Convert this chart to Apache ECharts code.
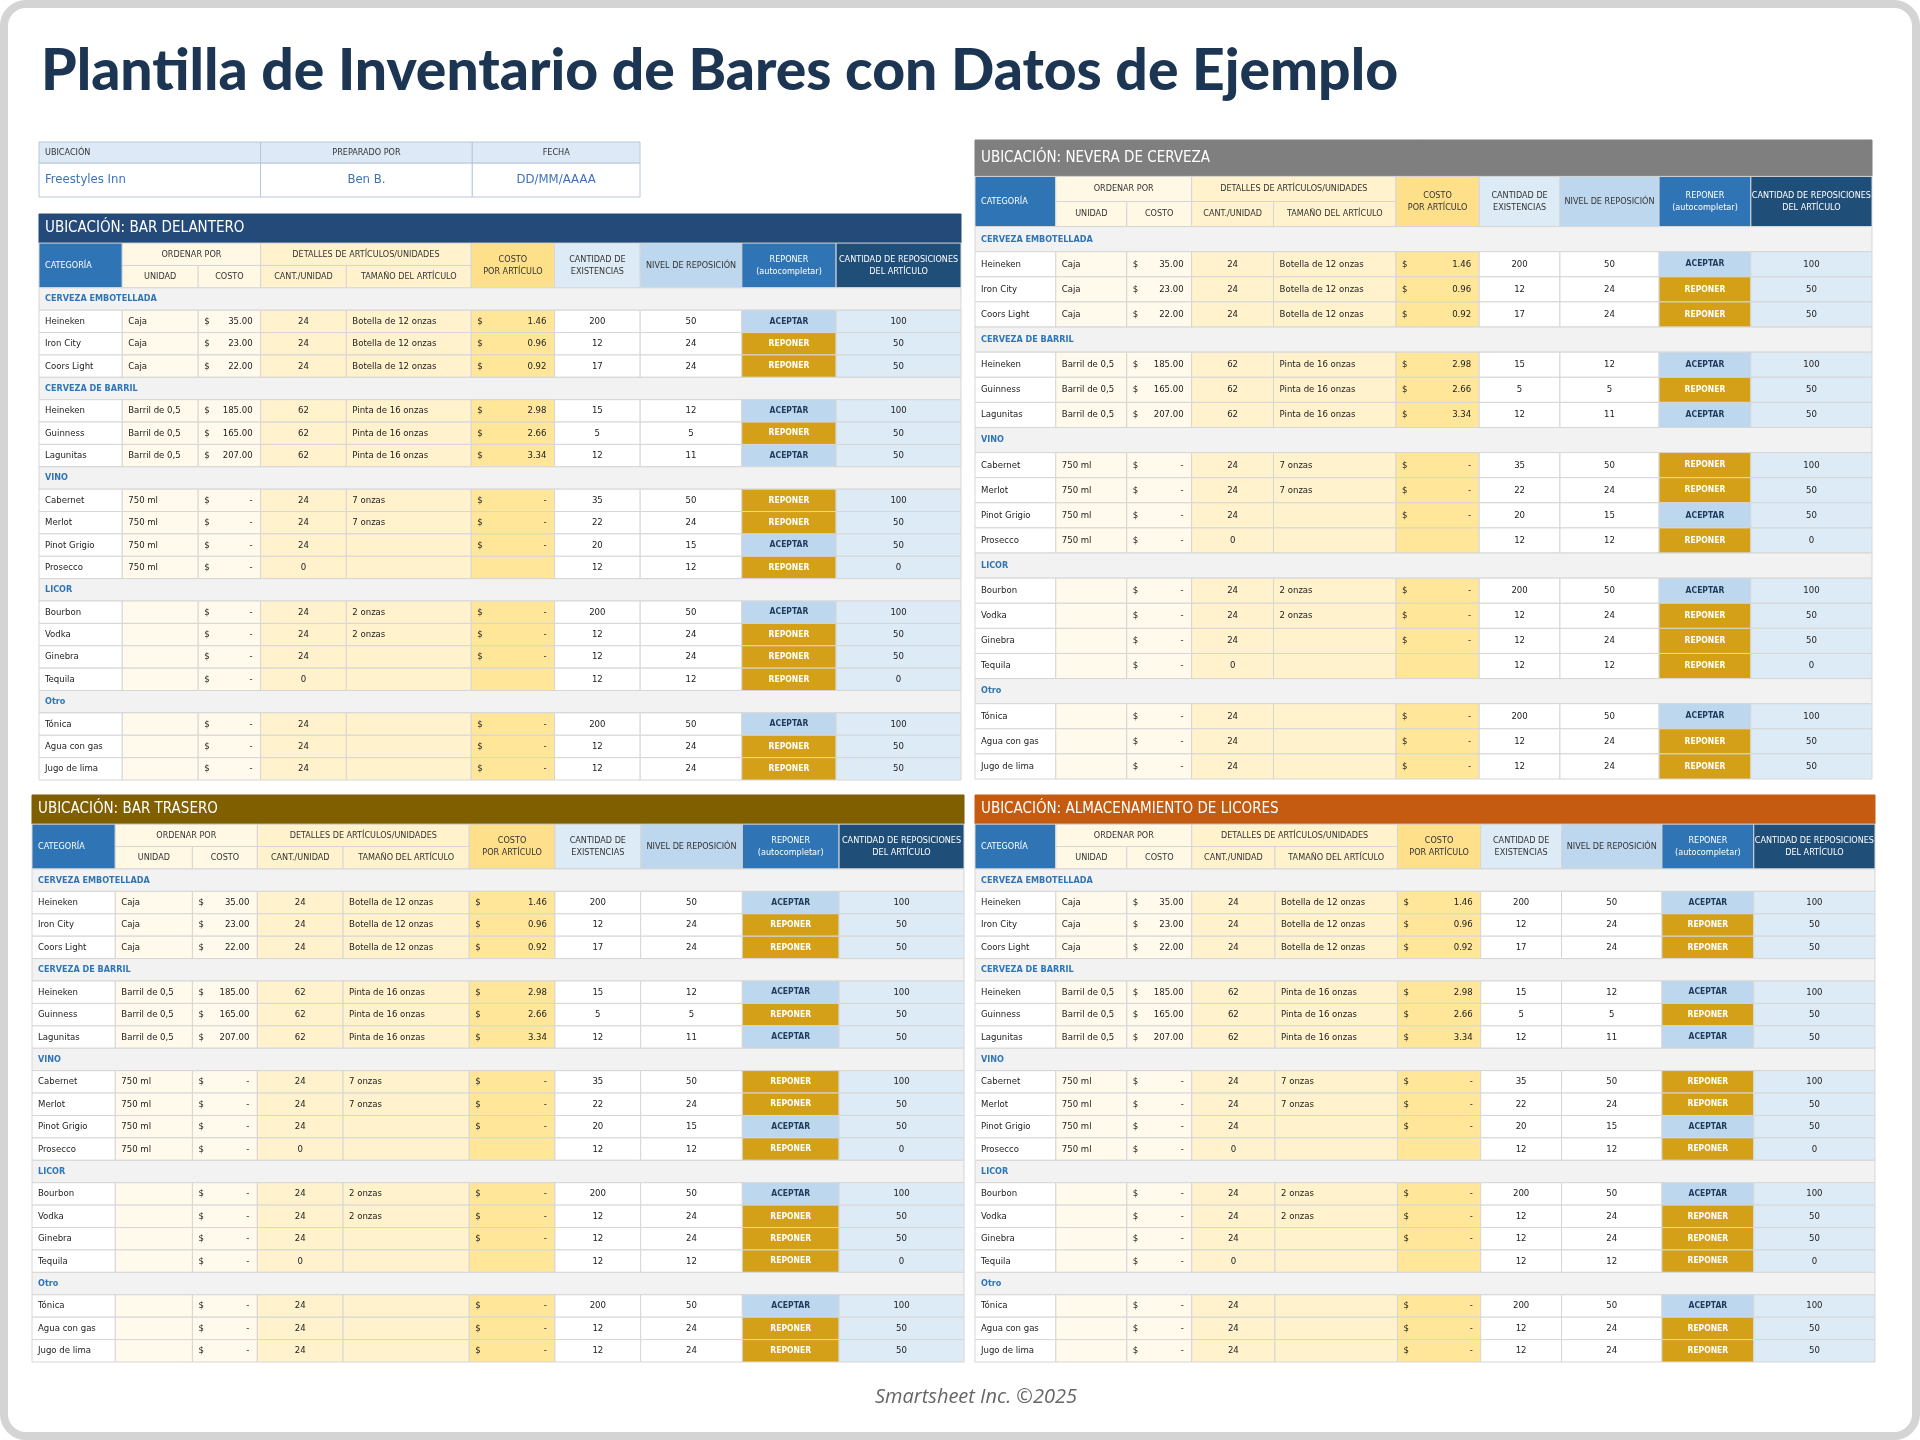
<!DOCTYPE html>
<html><head><meta charset="utf-8">
<script src="https://cdn.jsdelivr.net/npm/echarts@6/dist/echarts.min.js"></script>
<style>html,body{margin:0;padding:0;background:#fff}#c{width:1920px;height:1440px}</style>
</head><body><div id="c"></div>
<script>
// ---------- DATA ----------
const pageTitle = 'Plantilla de Inventario de Bares con Datos de Ejemplo';
const footer = 'Smartsheet Inc. ©2025';
const infoHeaders = ['UBICACIÓN', 'PREPARADO POR', 'FECHA'];
const infoValues = ['Freestyles Inn', 'Ben B.', 'DD/MM/AAAA'];
const tableTitles = ['UBICACIÓN: BAR DELANTERO', 'UBICACIÓN: NEVERA DE CERVEZA', 'UBICACIÓN: BAR TRASERO', 'UBICACIÓN: ALMACENAMIENTO DE LICORES'];
const sections = ['CERVEZA EMBOTELLADA', 'CERVEZA DE BARRIL', 'VINO', 'LICOR', 'Otro'];
const sectionSizes = [3, 3, 4, 4, 3];
const items = ['Heineken','Iron City','Coors Light','Heineken','Guinness','Lagunitas','Cabernet','Merlot','Pinot Grigio','Prosecco','Bourbon','Vodka','Ginebra','Tequila','Tónica','Agua con gas','Jugo de lima'];
const units = ['Caja','Caja','Caja','Barril de 0,5','Barril de 0,5','Barril de 0,5','750 ml','750 ml','750 ml','750 ml','','','','','','',''];
const unitCost = ['35.00','23.00','22.00','185.00','165.00','207.00','-','-','-','-','-','-','-','-','-','-','-'];
const qtyPerUnit = [24,24,24,62,62,62,24,24,24,0,24,24,24,0,24,24,24];
const itemSize = ['Botella de 12 onzas','Botella de 12 onzas','Botella de 12 onzas','Pinta de 16 onzas','Pinta de 16 onzas','Pinta de 16 onzas','7 onzas','7 onzas','','','2 onzas','2 onzas','','','','',''];
const costPerItem = ['1.46','0.96','0.92','2.98','2.66','3.34','-','-','-',null,'-','-','-',null,'-','-','-'];
const stock = [200,12,17,15,5,12,35,22,20,12,200,12,12,12,200,12,12];
const reorderLevel = [50,24,24,12,5,11,50,24,15,12,50,24,24,12,50,24,24];
const reorderStatus = ['ACEPTAR','REPONER','REPONER','ACEPTAR','REPONER','ACEPTAR','REPONER','REPONER','ACEPTAR','REPONER','ACEPTAR','REPONER','REPONER','REPONER','ACEPTAR','REPONER','REPONER'];
const reorderQty = [100,50,50,100,50,50,100,50,50,0,100,50,50,0,100,50,50];
const headerTop = ['CATEGORÍA','ORDENAR POR','DETALLES DE ARTÍCULOS/UNIDADES','COSTO\nPOR ARTÍCULO','CANTIDAD DE\nEXISTENCIAS','NIVEL DE REPOSICIÓN','REPONER\n(autocompletar)','CANTIDAD DE REPOSICIONES\nDEL ARTÍCULO'];
const headerSub = ['UNIDAD','COSTO','CANT./UNIDAD','TAMAÑO DEL ARTÍCULO'];

// ---------- LAYOUT ----------
const FONT = "'Liberation Sans Narrow','DejaVu Sans Condensed','Roboto',sans-serif";
const layouts = [
  {left:39, top:214, width:922, height:566, titleU:1.3, edges:[0,68,130,181,251,353,421,491,574,651,753], titleBg:'#234a78'},
  {left:975, top:140, width:897, height:639, titleU:1.45, edges:[0,66,124,177,244,344,412,478,559,634,733], titleBg:'#7f7f7f'},
  {left:32, top:795, width:932, height:567, titleU:1.3, edges:[0,68,131,184,254,357,427,497,580,659,761], titleBg:'#7f5f00'},
  {left:975, top:795, width:900, height:567, titleU:1.3, edges:[0,66,124,177,245,345,413,479,561,636,735], titleBg:'#c55a11'}
];
const colBg = ['#ffffff','#fffaeb','#fffaeb','#fff2cc','#fff2cc','#ffe699','#ffffff','#ffffff',null,'#ddebf7'];
const colAlign = ['left','left','dollar','center','left','dollar','center','center','center','center'];

function buildCells(L, title) {
  const cells = [];
  const T = L.titleU;
  cells.push({c0:0,c1:10,r0:0,r1:T,text:title,bg:L.titleBg,color:'#fff',size:15,align:'left',stroke:L.titleBg});
  const h = (c0,c1,r0,r1,text,bg,color)=>cells.push({c0,c1,r0,r1,text,bg,color:color||'#333',size:9,align:c0===0?'left':'center'});
  h(0,1,T,T+2,headerTop[0],'#2f75b5','#fff');
  h(1,3,T,T+1,headerTop[1],'#fff8e5');
  h(1,2,T+1,T+2,headerSub[0],'#fff8e5');
  h(2,3,T+1,T+2,headerSub[1],'#fff8e5');
  h(3,5,T,T+1,headerTop[2],'#fff2cc');
  h(3,4,T+1,T+2,headerSub[2],'#fff2cc');
  h(4,5,T+1,T+2,headerSub[3],'#fff2cc');
  h(5,6,T,T+2,headerTop[3],'#ffe08a');
  h(6,7,T,T+2,headerTop[4],'#ddebf7');
  h(7,8,T,T+2,headerTop[5],'#bdd7ee');
  h(8,9,T,T+2,headerTop[6],'#2f75b5','#fff');
  h(9,10,T,T+2,headerTop[7],'#1f4e79','#fff');
  let r = T+2, k = 0;
  sections.forEach((s,si)=>{
    cells.push({c0:0,c1:10,r0:r,r1:r+1,text:s,bg:'#f2f2f2',color:'#2f75b5',size:9,bold:true,align:'left'});
    r++;
    for (let j=0;j<sectionSizes[si];j++,k++,r++) {
      const vals = [items[k],units[k],unitCost[k],String(qtyPerUnit[k]),itemSize[k],costPerItem[k],String(stock[k]),String(reorderLevel[k]),reorderStatus[k],String(reorderQty[k])];
      vals.forEach((v,c)=>{
        const cell = {c0:c,c1:c+1,r0:r,r1:r+1,text:v==null?'':v,bg:colBg[c],color:'#222',size:9.5,align:colAlign[c]};
        if (c===8){ const ok=v==='ACEPTAR'; cell.bg=ok?'#bdd7ee':'#d4a017'; cell.color=ok?'#1f3b5c':'#fff'; cell.bold=true; cell.size=8.5; }
        if (colAlign[c]==='dollar' && v==null){ cell.align='left'; }
        cells.push(cell);
      });
    }
  });
  return {cells, total:r};
}

const grids=[], xAxes=[], yAxes=[], series=[];
function addTable(L, cells, total){
  const i = grids.length;
  grids.push({left:L.left, top:L.top, width:L.width, height:L.height});
  xAxes.push({type:'value', gridIndex:i, min:0, max:L.edges[L.edges.length-1], show:false});
  yAxes.push({type:'value', gridIndex:i, min:0, max:total, inverse:true, show:false});
  series.push({
    type:'custom', xAxisIndex:i, yAxisIndex:i, clip:false, silent:true,
    data: cells.map((c,j)=>[j,0]),
    renderItem:(params, api)=>{
      const c = cells[params.dataIndex];
      const p0 = api.coord([L.edges[c.c0], c.r0]);
      const p1 = api.coord([L.edges[c.c1], c.r1]);
      const x=p0[0], y=p0[1], w=p1[0]-p0[0], hh=p1[1]-p0[1];
      const font = {fontFamily:FONT, fontSize:c.size, fontWeight:c.bold?'bold':'normal', fill:c.color, verticalAlign:'middle', lineHeight:c.size+3};
      const children = [{type:'rect', shape:{x,y,width:w,height:hh}, style:{fill:c.bg||'#fff', stroke:c.stroke||'#d6d6d6', lineWidth:1}}];
      const cy = y+hh/2;
      if (c.align==='dollar') {
        children.push({type:'text', style:Object.assign({text:'$', x:x+6, y:cy, align:'left'},font)});
        children.push({type:'text', style:Object.assign({text:c.text, x:x+w-8, y:cy, align:'right'},font)});
      } else if (c.text) {
        const tx = c.align==='left' ? x+6 : x+w/2;
        children.push({type:'text', style:Object.assign({text:c.text, x:tx, y:cy, align:c.align},font)});
      }
      return {type:'group', children};
    }
  });
}

layouts.forEach((L,ti)=>{ const b = buildCells(L, tableTitles[ti]); addTable(L, b.cells, b.total); });

// info box
const infoL = {left:39, top:142, width:601, height:55, edges:[0,181,354,491]};
const infoCells = [];
infoHeaders.forEach((t,i)=>infoCells.push({c0:i,c1:i+1,r0:0,r1:1,text:t,bg:'#dde9f7',color:'#333',size:9,align:i===0?'left':'center',stroke:'#b8c8dc'}));
infoValues.forEach((t,i)=>infoCells.push({c0:i,c1:i+1,r0:1,r1:2.6,text:t,bg:'#ffffff',color:'#3f72b5',size:13,align:i===0?'left':'center',stroke:'#b8c8dc'}));
addTable(infoL, infoCells, 2.6);

const chart = echarts.init(document.getElementById('c'));
chart.setOption({
  backgroundColor:'#ffffff',
  animation:false,
  title:{text:pageTitle, left:36, top:38, textStyle:{fontFamily:"Lato,'Noto Sans',sans-serif", fontWeight:900, fontSize:57, color:'#1c3553'}},
  graphic:[
    {type:'rect', shape:{x:4,y:4,width:1912,height:1432,r:22}, style:{fill:'none', stroke:'#d4d4d4', lineWidth:8}, z:100},
    {type:'text', style:{text:footer, x:976, y:1397, align:'center', verticalAlign:'middle', fontSize:20, fontStyle:'italic', fill:'#666', fontFamily:"'Open Sans',sans-serif"}}
  ],
  grid:grids, xAxis:xAxes, yAxis:yAxes, series
});
</script></body></html>
